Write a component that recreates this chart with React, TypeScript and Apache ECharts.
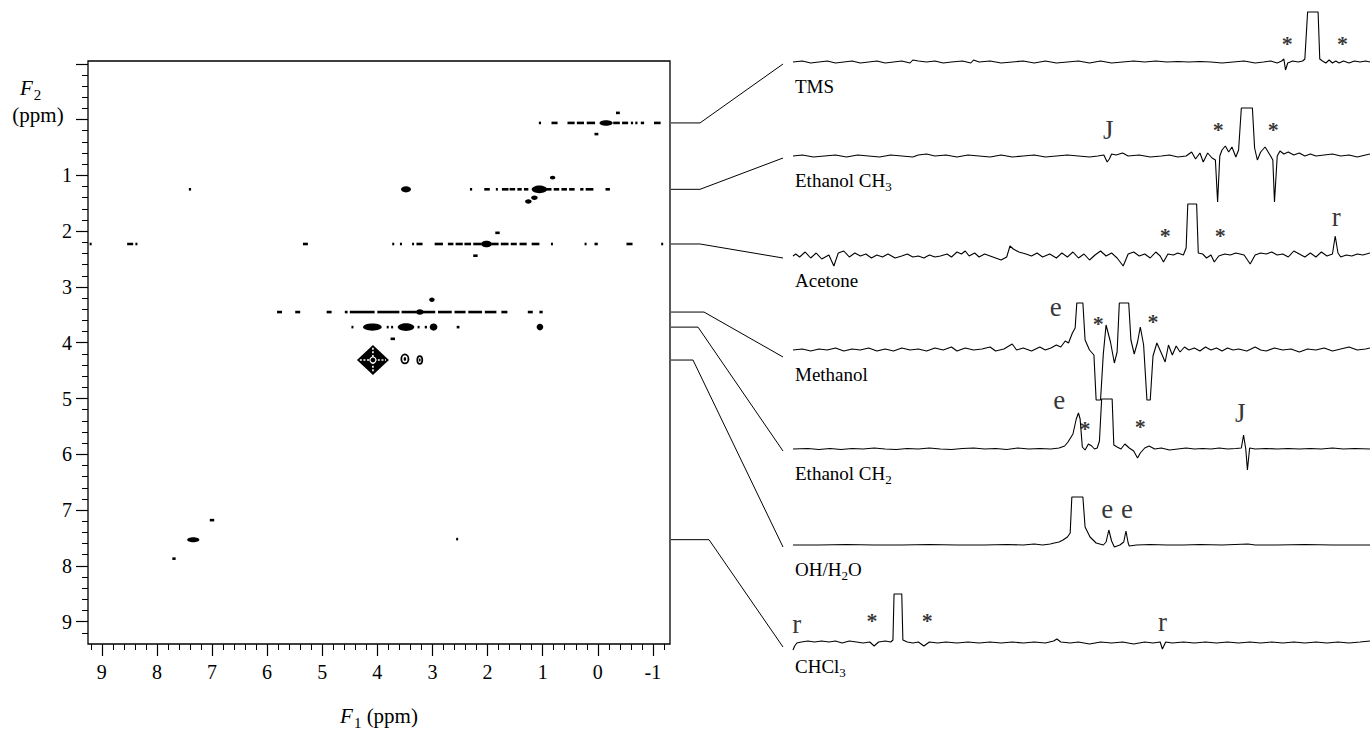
import React, { useEffect, useRef } from 'react';
import * as echarts from 'echarts';

const FONT = "'Liberation Serif', 'DejaVu Serif', 'Times New Roman', serif";

// ---- left 2D plot axes ----
const F1_MIN = -1.31;
const F1_MAX = 9.25;
const F2_MIN = -1.05;
const F2_MAX = 9.4;
const xMajorTicks = [-1, 0, 1, 2, 3, 4, 5, 6, 7, 8, 9];
const yMajorTicks = [-1, 0, 1, 2, 3, 4, 5, 6, 7, 8, 9];
const yLabelTicks = [1, 2, 3, 4, 5, 6, 7, 8, 9];
const xMinorTicks: number[] = [];
for (let v = -12; v <= 92; v += 2) if (v % 10 !== 0) xMinorTicks.push(v / 10);
const yMinorTicks: number[] = [];
for (let v = -8; v <= 92; v += 2) if (v % 10 !== 0) yMinorTicks.push(v / 10);

// ---- contour features (F1 ppm, F2 ppm) ----
// [F1 start, F1 end, F2]
const contourDashes = [
  [1.07, 1.03, 0.06], [0.84, 0.73, 0.06], [0.55, 0.42, 0.06], [0.38, 0.25, 0.06], [0.2, 0.05, 0.06],
  [-0.28, -0.4, 0.06], [-0.44, -0.55, 0.06], [-0.6, -0.64, 0.06], [-0.68, -0.72, 0.06], [-0.78, -0.84, 0.06],
  [-1.02, -1.14, 0.06], [-0.33, -0.4, -0.12], [0.06, -0.01, 0.26],
  [7.42, 7.38, 1.25], [2.32, 2.28, 1.25], [2.06, 1.96, 1.25], [1.85, 1.82, 1.25], [1.74, 1.62, 1.25],
  [1.6, 1.5, 1.25], [1.46, 1.38, 1.25], [1.34, 1.26, 1.25], [0.94, 0.84, 1.25], [0.8, 0.7, 1.25],
  [0.66, 0.56, 1.25], [0.52, 0.42, 1.25], [0.32, 0.26, 1.25], [0.22, 0.08, 1.25], [-0.14, -0.22, 1.25],
  [9.22, 9.2, 2.23], [8.54, 8.43, 2.23], [8.39, 8.37, 2.23], [5.35, 5.26, 2.23], [3.73, 3.71, 2.23],
  [3.59, 3.57, 2.23], [3.37, 3.35, 2.23], [3.29, 3.18, 2.23], [2.96, 2.81, 2.23], [2.72, 2.62, 2.23],
  [2.58, 2.45, 2.23], [2.42, 2.3, 2.23], [2.26, 2.12, 2.23], [1.93, 1.8, 2.23], [1.76, 1.62, 2.23],
  [1.58, 1.47, 2.23], [1.42, 1.29, 2.23], [1.2, 1.06, 2.23], [0.85, 0.83, 2.23], [0.24, 0.21, 2.23],
  [0.06, 0.0, 2.23], [-0.52, -0.63, 2.23], [-1.15, -1.18, 2.23], [1.86, 1.78, 2.03], [2.26, 2.18, 2.44],
  [5.82, 5.73, 3.45], [5.49, 5.4, 3.45], [4.92, 4.83, 3.45], [4.59, 4.54, 3.45], [4.5, 4.05, 3.45],
  [4.0, 3.6, 3.45], [3.56, 3.29, 3.45], [3.18, 2.95, 3.45], [2.9, 2.65, 3.45], [2.6, 2.4, 3.45],
  [2.35, 2.1, 3.45], [2.05, 1.84, 3.45], [1.75, 1.64, 3.45], [1.27, 1.18, 3.45], [1.06, 1.0, 3.45],
  [4.47, 4.45, 3.72], [3.83, 3.8, 3.72], [3.75, 3.72, 3.72], [3.27, 3.24, 3.72], [3.14, 3.1, 3.72],
  [2.56, 2.51, 3.72], [3.76, 3.68, 3.93],
  [7.04, 6.96, 7.18], [7.72, 7.66, 7.87], [2.57, 2.55, 7.52],
];
// [F1, F2, rF1, rF2]
const contourBlobs = [
  [-0.15, 0.06, 0.12, 0.05],
  [3.48, 1.25, 0.09, 0.055], [1.06, 1.25, 0.14, 0.07], [0.82, 1.04, 0.05, 0.035], [1.26, 1.47, 0.06, 0.04], [1.15, 1.4, 0.06, 0.04],
  [2.02, 2.23, 0.1, 0.06],
  [3.23, 3.45, 0.07, 0.05], [3.01, 3.23, 0.05, 0.04],
  [4.09, 3.72, 0.17, 0.065], [3.48, 3.72, 0.15, 0.07], [2.98, 3.72, 0.07, 0.065], [1.05, 3.72, 0.06, 0.06],
  [7.34, 7.53, 0.11, 0.045],
];
const contourRings = [[3.5, 4.29, 0.065, 0.08], [3.23, 4.31, 0.045, 0.07]];
const diagonalPeak = [[4.08, 4.31, 0.29, 0.27]];

// ---- 1D slices: [F1 ppm, intensity] ----
const TRACE_MIN = -1.18;
const TRACE_MAX = 9.27;
const tmsTrace = [[9.27,0],[9.1,1],[8.95,-1],[8.8,0],[8.65,1],[8.5,-1],[8.35,0],[8.2,1],[8.05,-1],[7.9,0],[7.75,1],[7.6,-1],[7.45,0],[7.3,1],[7.15,-1],[7.1,2],[7.0,1],[6.85,0],[6.7,1],[6.55,-1],[6.4,0],[6.2,1],[6.05,-1],[6.0,2],[5.9,0],[5.7,1],[5.5,-1],[5.3,0],[5.1,1],[4.9,-1],[4.7,1],[4.5,-1],[4.3,0],[4.1,1],[3.9,-1],[3.7,1],[3.5,-1],[3.3,0],[3.1,1],[2.9,0],[2.7,1],[2.5,0],[2.3,0.5],[2.1,0],[1.9,0.5],[1.7,0],[1.5,-1],[1.3,0],[1.1,1],[0.9,-1],[0.75,0],[0.62,1],[0.5,-1],[0.42,1],[0.38,3],[0.35,-8],[0.31,-1],[0.22,1],[0.12,0],[0.04,1],[0.0,3],[-0.05,50],[-0.24,50],[-0.27,3],[-0.32,1],[-0.38,-1],[-0.44,2],[-0.5,-1],[-0.56,1],[-0.62,-1],[-0.7,1],[-0.8,-1],[-0.9,1],[-1.0,0],[-1.1,1],[-1.18,0]];
const ethanolCH3Trace = [[9.27,0],[9.1,1],[8.9,-1],[8.7,0],[8.5,1],[8.3,-1],[8.1,1],[7.9,0],[7.7,-1],[7.5,1],[7.3,0],[7.1,-1],[7.0,1],[6.85,2],[6.7,0],[6.5,1],[6.3,-1],[6.1,1],[5.9,0],[5.7,-1],[5.5,1],[5.3,-1],[5.1,0],[4.9,1],[4.7,-1],[4.5,0],[4.3,1],[4.1,0],[3.9,-1],[3.75,0],[3.64,1],[3.58,-6],[3.54,-3],[3.5,2],[3.42,1],[3.3,3],[3.2,0],[3.0,1],[2.8,-1],[2.6,0],[2.45,1],[2.3,-1],[2.15,0],[2.05,4],[1.98,-3],[1.9,3],[1.84,-6],[1.76,3],[1.68,-2],[1.62,-4],[1.58,-46],[1.54,0],[1.5,6],[1.44,10],[1.38,4],[1.32,9],[1.25,-1],[1.2,6],[1.15,48],[0.95,48],[0.91,8],[0.86,-4],[0.8,4],[0.72,9],[0.62,0],[0.58,-4],[0.55,-46],[0.5,0],[0.45,5],[0.38,2],[0.3,4],[0.2,1],[0.1,3],[0.0,0],[-0.1,2],[-0.2,0],[-0.35,1],[-0.5,2],[-0.65,0],[-0.8,1],[-0.95,-1],[-1.1,1],[-1.18,2]];
const acetoneTrace = [[9.27,0],[9.22,2],[9.15,-1],[9.05,4],[8.95,-2],[8.85,3],[8.75,-3],[8.62,1],[8.53,-10],[8.45,3],[8.35,5],[8.25,-1],[8.15,3],[8.05,0],[7.95,2],[7.85,-2],[7.75,1],[7.65,-1],[7.55,2],[7.42,-2],[7.3,0],[7.2,2],[7.1,-1],[7.0,0],[6.9,-2],[6.8,1],[6.7,-1],[6.6,0],[6.48,2],[6.4,-1],[6.3,4],[6.22,2],[6.15,5],[6.08,0],[5.98,3],[5.9,-1],[5.8,2],[5.7,0],[5.6,-2],[5.5,-4],[5.4,-1],[5.34,10],[5.28,7],[5.18,4],[5.05,2],[4.95,0],[4.85,3],[4.75,-1],[4.62,2],[4.5,-2],[4.4,3],[4.3,-1],[4.2,4],[4.1,-2],[4.0,2],[3.9,-4],[3.8,1],[3.7,5],[3.6,0],[3.5,3],[3.4,-2],[3.29,-10],[3.2,2],[3.1,4],[3.0,0],[2.9,2],[2.8,-2],[2.7,4],[2.62,0],[2.56,-6],[2.48,2],[2.38,1],[2.3,3],[2.2,1],[2.15,8],[2.12,52],[1.96,52],[1.93,3],[1.85,2],[1.78,-2],[1.7,1],[1.64,-6],[1.56,0],[1.45,2],[1.35,1],[1.25,3],[1.1,1],[0.99,-8],[0.9,1],[0.8,3],[0.7,2],[0.6,4],[0.5,1],[0.4,2],[0.3,-1],[0.2,5],[0.1,2],[0.0,-1],[-0.1,3],[-0.2,-1],[-0.3,4],[-0.4,0],[-0.5,2],[-0.55,20],[-0.6,3],[-0.65,-1],[-0.75,1],[-0.85,0],[-0.95,2],[-1.05,1],[-1.18,3]];
const methanolTrace = [[9.27,0],[9.1,1],[8.95,-1],[8.8,1],[8.65,0],[8.5,2],[8.35,-1],[8.2,1],[8.05,0],[7.9,2],[7.75,-1],[7.6,1],[7.45,-1],[7.3,2],[7.15,0],[7.0,1],[6.85,-1],[6.7,2],[6.55,0],[6.4,3],[6.3,-1],[6.15,2],[6.0,0],[5.85,1],[5.7,3],[5.6,-1],[5.45,1],[5.3,6],[5.22,0],[5.1,2],[4.95,-1],[4.8,3],[4.7,0],[4.6,2],[4.5,5],[4.42,3],[4.34,9],[4.28,7],[4.21,17],[4.16,22],[4.13,47],[4.02,47],[3.98,10],[3.9,0],[3.82,-5],[3.78,-50],[3.7,-50],[3.65,-4],[3.6,25],[3.52,8],[3.45,-13],[3.4,-2],[3.36,47],[3.19,47],[3.15,10],[3.09,-4],[3.03,8],[2.98,23],[2.92,5],[2.86,-50],[2.8,-50],[2.75,-6],[2.68,7],[2.6,-3],[2.53,-12],[2.47,5],[2.4,-5],[2.33,4],[2.26,-2],[2.18,3],[2.1,0],[2.0,2],[1.9,-1],[1.8,3],[1.7,0],[1.6,2],[1.5,-1],[1.4,2],[1.3,0],[1.2,1],[1.05,-1],[0.9,3],[0.8,0],[0.7,-1],[0.55,2],[0.4,0],[0.25,1],[0.1,-2],[-0.05,1],[-0.2,0],[-0.35,2],[-0.5,-1],[-0.65,1],[-0.8,3],[-0.95,0],[-1.1,1],[-1.18,2]];
const ethanolCH2Trace = [[9.27,0],[9.0,0.5],[8.8,-0.5],[8.6,0.5],[8.4,-0.5],[8.2,0.5],[8.0,0],[7.8,1],[7.6,0],[7.4,-0.5],[7.2,0.5],[7.0,0],[6.8,1],[6.6,0],[6.4,-0.5],[6.2,0.5],[6.0,1],[5.8,0],[5.6,0.5],[5.4,-0.5],[5.2,1],[5.0,0],[4.8,0.5],[4.6,0],[4.45,1],[4.35,3],[4.29,7],[4.2,15],[4.14,30],[4.1,36],[4.07,30],[4.03,2],[3.98,-1],[3.92,5],[3.86,3],[3.81,0],[3.76,1],[3.72,8],[3.68,50],[3.49,50],[3.46,4],[3.4,2],[3.33,0],[3.26,5],[3.18,1],[3.1,-2],[3.03,-9],[2.98,-4],[2.9,1],[2.82,3],[2.72,0],[2.6,1],[2.45,-1],[2.3,0],[2.15,1],[2.0,0],[1.85,0.5],[1.7,0],[1.55,1],[1.4,0],[1.25,0.5],[1.15,1],[1.11,14],[1.07,0],[1.04,-21],[1.0,1],[0.9,0],[0.7,0.5],[0.5,0],[0.3,0.5],[0.1,0],[-0.1,0.5],[-0.3,0],[-0.5,1],[-0.7,0],[-0.9,0.5],[-1.18,0]];
const ohWaterTrace = [[9.27,0],[8.8,0],[8.3,0.5],[7.8,0],[7.3,0],[6.8,0.5],[6.3,0],[5.8,0],[5.4,0.5],[5.1,0],[4.9,1],[4.75,0],[4.61,1],[4.54,2],[4.45,3],[4.38,5],[4.3,8],[4.25,12],[4.22,48],[4.02,48],[3.98,18],[3.89,8],[3.78,2],[3.65,0],[3.6,3],[3.55,15],[3.5,4],[3.45,-2],[3.35,0],[3.28,3],[3.24,14],[3.2,2],[3.18,-1],[3.05,0],[2.8,0.5],[2.5,0],[2.2,0],[1.9,0.5],[1.5,0],[1.03,1],[0.9,0],[0.5,0],[0.0,0.5],[-0.5,0],[-1.18,0]];
const chcl3Trace = [[9.27,-8],[9.24,-4],[9.2,-1],[9.12,0],[9.0,1],[8.88,0],[8.75,1],[8.62,0],[8.5,1],[8.38,-1],[8.25,1],[8.12,0],[8.0,-1],[7.88,0],[7.8,-4],[7.72,0],[7.6,1],[7.5,0],[7.46,2],[7.44,48],[7.3,48],[7.28,2],[7.2,0],[7.1,-1],[7.0,0],[6.9,-4],[6.8,0],[6.65,-1],[6.5,0],[6.3,-1],[6.1,0],[5.9,-1],[5.7,0],[5.5,-1],[5.3,0],[5.1,-1],[4.9,0],[4.7,-1],[4.55,1],[4.49,3],[4.42,0],[4.25,-1],[4.1,0],[3.9,-2],[3.7,0],[3.5,-1],[3.3,0],[3.1,-2],[2.9,0],[2.75,-1],[2.62,0],[2.58,-7],[2.52,0],[2.4,-1],[2.2,0],[2.0,-1],[1.8,0],[1.6,-1],[1.4,0],[1.2,-1],[1.0,0],[0.8,-1],[0.6,0],[0.4,-1],[0.2,0],[0.0,-1],[-0.2,0],[-0.4,-1],[-0.6,0],[-0.8,-1],[-1.0,0],[-1.18,1]];

// annotations: [F1 ppm, intensity, text]
const tmsMarks = [[0.32, 24, '*'], [-0.68, 24, '*']];
const ethanolCH3Marks = [[3.56, 26, 'J'], [1.57, 32, '*'], [0.57, 32, '*']];
const acetoneMarks = [[2.53, 26, '*'], [1.53, 26, '*'], [-0.57, 36, 'r']];
const methanolMarks = [[4.51, 40, 'e'], [3.74, 32, '*'], [2.75, 34, '*']];
const ethanolCH2Marks = [[4.45, 46, 'e'], [3.98, 26, '*'], [2.98, 28, '*'], [1.17, 36, 'J']];
const ohWaterMarks = [[3.58, 33, 'e'], [3.22, 33, 'e']];
const chcl3Marks = [[9.2, 15, 'r'], [7.84, 27, '*'], [6.84, 27, '*'], [2.58, 17, 'r']];

// slice F2 positions and names
const sliceF2 = [0.06, 1.25, 2.23, 3.45, 3.72, 4.31, 7.53];
type Part = { t: string; sub?: boolean; italic?: boolean };
const sliceNames: Part[][] = [
  [{ t: 'TMS' }],
  [{ t: 'Ethanol CH' }, { t: '3', sub: true }],
  [{ t: 'Acetone' }],
  [{ t: 'Methanol' }],
  [{ t: 'Ethanol CH' }, { t: '2', sub: true }],
  [{ t: 'OH/H' }, { t: '2', sub: true }, { t: 'O' }],
  [{ t: 'CHCl' }, { t: '3', sub: true }],
];
const sliceData = [tmsTrace, ethanolCH3Trace, acetoneTrace, methanolTrace, ethanolCH2Trace, ohWaterTrace, chcl3Trace];
const sliceMarks = [tmsMarks, ethanolCH3Marks, acetoneMarks, methanolMarks, ethanolCH2Marks, ohWaterMarks, chcl3Marks];

// layout
const SLICE_BASE = [62, 156, 256, 350, 449, 545, 642];
const ELBOW_X = [700, 700, 700, 704, 698, 693, 709];
const CONN_END_DY = [2, 2, 2, 7, 2, 2, 5];

function textParts(parts: Part[], x: number, y: number, size: number, align: 'left' | 'center') {
  const ctx = document.createElement('canvas').getContext('2d') as CanvasRenderingContext2D;
  const items = parts.map((p) => {
    const fs = p.sub ? Math.round(size * 0.7) : size;
    const font = `${p.italic ? 'italic ' : ''}${fs}px ${FONT}`;
    ctx.font = font;
    return { ...p, fs, font, w: ctx.measureText(p.t).width + (p.italic ? 1 : 0) };
  });
  const total = items.reduce((s, i) => s + i.w, 0);
  let cx = align === 'center' ? x - total / 2 : x;
  const els: any[] = [];
  for (const it of items) {
    els.push({
      type: 'text', x: cx, y: y + (it.sub ? size * 0.33 : 0), silent: true,
      style: { text: it.t, font: it.font, fill: '#000', align: 'left', verticalAlign: 'middle', textAlign: 'left', textVerticalAlign: 'middle' },
    });
    cx += it.w;
  }
  return els;
}

function markStyle(t: string) {
  if (t === '*') return { fontSize: 22, fontWeight: 'bold', offset: [0, 5] };
  if (t === 'J') return { fontSize: 27, fontWeight: 'normal', offset: [0, 0] };
  return { fontSize: 27, fontWeight: 'normal', offset: [0, -3] };
}

export default function App() {
  const ref = useRef<HTMLDivElement>(null);
  useEffect(() => {
    if (!ref.current) return;
    const chart = echarts.init(ref.current, null, { renderer: 'svg' });

    const grids: any[] = [
      { left: 88, top: 61, width: 582, height: 583, show: true, borderColor: '#000', borderWidth: 1.3, backgroundColor: 'transparent' },
      { left: 88, top: 61, width: 582, height: 583, show: false },
    ];
    const xAxes: any[] = [
      {
        type: 'value', gridIndex: 0, position: 'bottom', min: F1_MIN, max: F1_MAX, inverse: true,
        axisLine: { show: false, onZero: false }, splitLine: { show: false },
        axisTick: { show: true, customValues: xMajorTicks, length: 12, lineStyle: { color: '#000', width: 1.2 } },
        axisLabel: { show: true, customValues: xMajorTicks, margin: 18, fontFamily: FONT, fontSize: 20, color: '#000' },
      },
      {
        type: 'value', gridIndex: 1, position: 'bottom', min: F1_MIN, max: F1_MAX, inverse: true,
        axisLine: { show: false, onZero: false }, splitLine: { show: false },
        axisTick: { show: true, customValues: xMinorTicks, length: 6, lineStyle: { color: '#000', width: 1 } },
        axisLabel: { show: false },
      },
    ];
    const yAxes: any[] = [
      {
        type: 'value', gridIndex: 0, position: 'left', min: F2_MIN, max: F2_MAX, inverse: true,
        axisLine: { show: false, onZero: false }, splitLine: { show: false },
        axisTick: { show: true, customValues: yMajorTicks, length: 12, lineStyle: { color: '#000', width: 1.2 } },
        axisLabel: { show: true, customValues: yLabelTicks, margin: 16, fontFamily: FONT, fontSize: 20, color: '#000' },
      },
      {
        type: 'value', gridIndex: 1, position: 'left', min: F2_MIN, max: F2_MAX, inverse: true,
        axisLine: { show: false, onZero: false }, splitLine: { show: false },
        axisTick: { show: true, customValues: yMinorTicks, length: 6, lineStyle: { color: '#000', width: 1 } },
        axisLabel: { show: false },
      },
    ];

    const series: any[] = [
      {
        type: 'custom', xAxisIndex: 0, yAxisIndex: 0, data: contourDashes, encode: { x: [0, 1], y: 2 }, silent: true,
        renderItem: (p: any, api: any) => {
          const a = api.coord([api.value(0), api.value(2)]);
          const b = api.coord([api.value(1), api.value(2)]);
          const x = Math.min(a[0], b[0]);
          const w = Math.max(Math.abs(a[0] - b[0]), 2);
          return { type: 'rect', shape: { x, y: a[1] - 1.3, width: w, height: 2.6 }, style: { fill: '#000' } };
        },
      },
      {
        type: 'custom', xAxisIndex: 0, yAxisIndex: 0, data: contourBlobs, encode: { x: 0, y: 1 }, silent: true,
        renderItem: (p: any, api: any) => {
          const c = api.coord([api.value(0), api.value(1)]);
          const s = api.size([api.value(2), api.value(3)]);
          return { type: 'ellipse', shape: { cx: c[0], cy: c[1], rx: s[0], ry: s[1] }, style: { fill: '#000' } };
        },
      },
      {
        type: 'custom', xAxisIndex: 0, yAxisIndex: 0, data: contourRings, encode: { x: 0, y: 1 }, silent: true,
        renderItem: (p: any, api: any) => {
          const c = api.coord([api.value(0), api.value(1)]);
          const s = api.size([api.value(2), api.value(3)]);
          return {
            type: 'group', children: [
              { type: 'ellipse', shape: { cx: c[0], cy: c[1], rx: s[0], ry: s[1] }, style: { fill: 'none', stroke: '#000', lineWidth: 1.8 } },
              { type: 'ellipse', shape: { cx: c[0], cy: c[1], rx: s[0] * 0.35, ry: s[1] * 0.45 }, style: { fill: '#000' } },
            ],
          };
        },
      },
      {
        type: 'custom', xAxisIndex: 0, yAxisIndex: 0, data: diagonalPeak, encode: { x: 0, y: 1 }, silent: true,
        renderItem: (p: any, api: any) => {
          const c = api.coord([api.value(0), api.value(1)]);
          const s = api.size([api.value(2), api.value(3)]);
          const [cx, cy] = c;
          const [rx, ry] = s;
          return {
            type: 'group', children: [
              { type: 'polygon', shape: { points: [[cx - rx, cy], [cx, cy - ry], [cx + rx, cy], [cx, cy + ry]] }, style: { fill: '#000' } },
              { type: 'line', shape: { x1: cx - rx * 0.82, y1: cy, x2: cx + rx * 0.82, y2: cy }, style: { stroke: '#fff', lineWidth: 1.6, lineDash: [2, 1.6] } },
              { type: 'line', shape: { x1: cx, y1: cy - ry * 0.82, x2: cx, y2: cy + ry * 0.82 }, style: { stroke: '#fff', lineWidth: 1.6, lineDash: [2, 1.6] } },
              { type: 'circle', shape: { cx, cy, r: 3 }, style: { fill: '#000', stroke: '#fff', lineWidth: 1.2 } },
            ],
          };
        },
      },
    ];

    sliceData.forEach((data, i) => {
      const base = SLICE_BASE[i];
      grids.push({ left: 793, top: base - 60, width: 577, height: 120, show: false });
      const gi = grids.length - 1;
      xAxes.push({ type: 'value', gridIndex: gi, min: TRACE_MIN, max: TRACE_MAX, inverse: true, show: false });
      yAxes.push({ type: 'value', gridIndex: gi, min: -60, max: 60, show: false });
      series.push({
        type: 'line', xAxisIndex: gi, yAxisIndex: gi, data, showSymbol: false, symbol: 'none', silent: true,
        lineStyle: { color: '#000', width: 1.1 },
      });
      series.push({
        type: 'scatter', xAxisIndex: gi, yAxisIndex: gi, silent: true, symbolSize: 1,
        itemStyle: { color: 'rgba(0,0,0,0)' },
        data: sliceMarks[i].map((m: any) => {
          const st = markStyle(m[2]);
          return {
            value: [m[0], m[1]],
            label: {
              show: true, position: 'inside', formatter: m[2], color: '#000', fontFamily: FONT,
              fontSize: st.fontSize, fontWeight: st.fontWeight, offset: st.offset,
            },
          };
        }),
      });
    });

    chart.setOption({
      animation: false,
      backgroundColor: '#fff',
      grid: grids,
      xAxis: xAxes,
      yAxis: yAxes,
      series,
    });

    const elements: any[] = [];
    elements.push(...textParts([{ t: 'F', italic: true }, { t: '2', sub: true }], 20, 88, 21, 'left'));
    elements.push(...textParts([{ t: '(ppm)' }], 38, 115, 21, 'center'));
    elements.push(...textParts([{ t: 'F', italic: true }, { t: '1', sub: true }, { t: ' (ppm)' }], 379, 716, 21, 'center'));

    sliceF2.forEach((f2, i) => {
      const gi = i + 2;
      const start = chart.convertToPixel({ gridIndex: 0 } as any, [F1_MIN, f2]) as number[];
      const base = chart.convertToPixel({ gridIndex: gi } as any, [TRACE_MAX, 0]) as number[];
      elements.push({
        type: 'polyline', silent: true,
        shape: { points: [[start[0] + 1, start[1]], [ELBOW_X[i], start[1]], [base[0] - 10, base[1] + CONN_END_DY[i]]] },
        style: { stroke: '#000', lineWidth: 1, fill: null },
      });
      elements.push(...textParts(sliceNames[i], 795, base[1] + 24, 19, 'left'));
    });

    chart.setOption({ graphic: { elements } });
    return () => chart.dispose();
  }, []);

  return <div ref={ref} style={{ position: 'absolute', left: 0, top: 0, width: 1370, height: 736 }} />;
}
